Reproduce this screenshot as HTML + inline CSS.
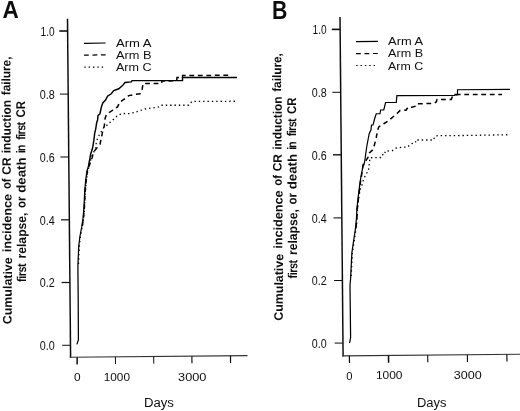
<!DOCTYPE html>
<html><head><meta charset="utf-8"><title>Cumulative incidence</title>
<style>
html,body{margin:0;padding:0;background:#fff;}
svg{display:block;font-family:"Liberation Sans",sans-serif;}
.ax{stroke:#111;stroke-width:1.5;fill:none;stroke-linecap:butt}
.axx{stroke:#333;stroke-width:1.1;fill:none}
.tk{stroke:#111;fill:none}
.sol{stroke:#000;stroke-width:1.45;fill:none;stroke-linejoin:miter}
.tr{stroke-width:1.25 !important}
.sb{stroke-width:1.22 !important}
.lg{stroke-width:1.2 !important}
.dsh{stroke:#000;stroke-width:1.5;fill:none;stroke-dasharray:4.8 3.7}
.dot{stroke:#000;stroke-width:1.3;fill:none;stroke-dasharray:1.4 2.95}
text{fill:#111}
</style></head><body>
<svg width="520" height="411" viewBox="0 0 520 411">
<defs><filter id="soft" x="0" y="0" width="520" height="411" filterUnits="userSpaceOnUse"><feGaussianBlur stdDeviation="0.3"/></filter></defs>
<rect width="520" height="411" fill="#fff"/>
<g filter="url(#soft)">
<line class="ax" x1="67.5" y1="18.75" x2="70.6" y2="357.75"/>
<line class="axx" x1="69.89999999999999" y1="357.25" x2="247.5" y2="355.63"/>
<line class="tk" stroke-width="1.6" x1="59.31" y1="31" x2="67.61" y2="31"/>
<line class="tk" stroke-width="1.0" x1="59.89" y1="94.1" x2="68.19" y2="94.1"/>
<line class="tk" stroke-width="1.1" x1="60.47" y1="157" x2="68.77" y2="157"/>
<line class="tk" stroke-width="1.2" x1="61.04" y1="219.8" x2="69.34" y2="219.8"/>
<line class="tk" stroke-width="1.2" x1="61.62" y1="282.5" x2="69.92" y2="282.5"/>
<line class="tk" stroke-width="1.0" x1="62.19" y1="345.3" x2="70.49" y2="345.3"/>
<line class="tk" stroke-width="1.5" x1="77.1" y1="357.19" x2="77.17" y2="364.39"/>
<line class="tk" stroke-width="1.0" x1="115.4" y1="356.84" x2="115.47" y2="364.04"/>
<line class="tk" stroke-width="1.0" x1="153.7" y1="356.49" x2="153.77" y2="363.69"/>
<line class="tk" stroke-width="1.2" x1="191.9" y1="356.14" x2="191.97" y2="363.34"/>
<line class="tk" stroke-width="1.2" x1="230.5" y1="355.79" x2="230.57" y2="362.99"/>
<line class="ax" x1="340.0" y1="16.9" x2="343.1" y2="356.4"/>
<line class="axx" x1="342.40000000000003" y1="355.9" x2="520" y2="354.28"/>
<line class="tk" stroke-width="1.6" x1="331.81" y1="29.4" x2="340.11" y2="29.4"/>
<line class="tk" stroke-width="1.0" x1="332.39" y1="92.3" x2="340.69" y2="92.3"/>
<line class="tk" stroke-width="1.4" x1="332.96" y1="154.8" x2="341.26" y2="154.8"/>
<line class="tk" stroke-width="1.1" x1="333.54" y1="217.9" x2="341.84" y2="217.9"/>
<line class="tk" stroke-width="1.0" x1="334.11" y1="280.5" x2="342.41" y2="280.5"/>
<line class="tk" stroke-width="1.0" x1="334.69" y1="343.1" x2="342.99" y2="343.1"/>
<line class="tk" stroke-width="1.2" x1="349.4" y1="355.84" x2="349.47" y2="363.04"/>
<line class="tk" stroke-width="1.5" x1="388.5" y1="355.48" x2="388.57" y2="362.68"/>
<line class="tk" stroke-width="1.1" x1="427.7" y1="355.13" x2="427.77" y2="362.33"/>
<line class="tk" stroke-width="1.1" x1="467.4" y1="354.76" x2="467.47" y2="361.96"/>
<line class="tk" stroke-width="1.2" x1="506.9" y1="354.40" x2="506.97" y2="361.60"/>
<text transform="translate(40.60,35.90) scale(0.7526,1)" font-size="13.48" font-weight="normal" fill="#000">1.0</text>
<text transform="translate(39.75,99.00) scale(0.7980,1)" font-size="13.48" font-weight="normal" fill="#000">0.8</text>
<text transform="translate(39.75,161.90) scale(0.7980,1)" font-size="13.48" font-weight="normal" fill="#000">0.6</text>
<text transform="translate(39.75,224.70) scale(0.7980,1)" font-size="13.48" font-weight="normal" fill="#000">0.4</text>
<text transform="translate(39.75,287.40) scale(0.7980,1)" font-size="13.48" font-weight="normal" fill="#000">0.2</text>
<text transform="translate(39.75,350.20) scale(0.7980,1)" font-size="13.48" font-weight="normal" fill="#000">0.0</text>
<text transform="translate(312.60,34.30) scale(0.7526,1)" font-size="13.48" font-weight="normal" fill="#000">1.0</text>
<text transform="translate(311.80,97.20) scale(0.7953,1)" font-size="13.48" font-weight="normal" fill="#000">0.8</text>
<text transform="translate(311.80,159.70) scale(0.7953,1)" font-size="13.48" font-weight="normal" fill="#000">0.6</text>
<text transform="translate(311.80,222.80) scale(0.7953,1)" font-size="13.48" font-weight="normal" fill="#000">0.4</text>
<text transform="translate(311.80,285.40) scale(0.7953,1)" font-size="13.48" font-weight="normal" fill="#000">0.2</text>
<text transform="translate(311.80,348.00) scale(0.7953,1)" font-size="13.48" font-weight="normal" fill="#000">0.0</text>
<text transform="translate(74.00,381.25) scale(1.0588,1)" font-size="11.23" font-weight="normal" fill="#000">0</text>
<text transform="translate(103.75,381.25) scale(1.0504,1)" font-size="11.23" font-weight="normal" fill="#000">1000</text>
<text transform="translate(178.10,380.90) scale(1.1438,1)" font-size="11.16" font-weight="normal" fill="#000">3000</text>
<text transform="translate(346.25,379.75) scale(0.9898,1)" font-size="11.38" font-weight="normal" fill="#000">0</text>
<text transform="translate(375.90,379.30) scale(1.0442,1)" font-size="11.45" font-weight="normal" fill="#000">1000</text>
<text transform="translate(453.70,378.60) scale(1.0854,1)" font-size="11.59" font-weight="normal" fill="#000">3000</text>
<text transform="translate(144.00,407.25) scale(0.9922,1)" font-size="13.26" font-weight="normal" fill="#000">Days</text>
<text transform="translate(416.90,407.25) scale(0.9790,1)" font-size="13.26" font-weight="normal" fill="#000">Days</text>
<text transform="translate(2.50,18.20) scale(0.9188,1)" font-size="24.57" font-weight="bold" fill="#000">A</text>
<text transform="translate(271.90,18.50) scale(0.8528,1)" font-size="25.00" font-weight="bold" fill="#000">B</text>
<text transform="translate(116.00,46.90) scale(1.1411,1)" font-size="11.45" font-weight="normal" fill="#000">Arm A</text>
<text transform="translate(116.00,59.00) scale(1.1401,1)" font-size="11.23" font-weight="normal" fill="#000">Arm B</text>
<text transform="translate(116.00,71.40) scale(1.0697,1)" font-size="11.74" font-weight="normal" fill="#000">Arm C</text>
<text transform="translate(388.10,45.10) scale(1.1542,1)" font-size="11.16" font-weight="normal" fill="#000">Arm A</text>
<text transform="translate(388.10,57.40) scale(1.1028,1)" font-size="11.45" font-weight="normal" fill="#000">Arm B</text>
<text transform="translate(388.10,69.60) scale(1.0679,1)" font-size="11.59" font-weight="normal" fill="#000">Arm C</text>
<line class="sol lg" x1="84" y1="43.3" x2="105.6" y2="43.0"/>
<line class="dsh lg" x1="84" y1="55.2" x2="105.6" y2="54.8"/>
<line class="dot lg" x1="84.3" y1="67.1" x2="105.6" y2="67.1"/>
<line class="sol lg" x1="356" y1="41.6" x2="377.9" y2="41.4"/>
<line class="dsh lg" x1="356" y1="53.6" x2="377.9" y2="53.5"/>
<line class="dot lg" x1="356.2" y1="65.5" x2="377.9" y2="65.5"/>
<text transform="translate(11.60,324.20) rotate(-89.65) translate(-0.00,0) scale(1.0076,1)" font-size="12.32" font-weight="bold">Cumulative</text>
<text transform="translate(11.16,252.30) rotate(-89.65) translate(-0.00,0) scale(1.0290,1)" font-size="12.32" font-weight="bold">incidence</text>
<text transform="translate(10.77,189.10) rotate(-89.65) translate(-0.00,0) scale(0.9106,1)" font-size="12.32" font-weight="bold">of</text>
<text transform="translate(10.69,174.70) rotate(-89.65) translate(-0.00,0) scale(0.9663,1)" font-size="12.32" font-weight="bold">CR</text>
<text transform="translate(10.56,153.20) rotate(-89.65) translate(-0.00,0) scale(0.9615,1)" font-size="12.32" font-weight="bold">induction</text>
<text transform="translate(10.20,95.30) rotate(-89.65) translate(-0.00,0) scale(0.9603,1)" font-size="12.32" font-weight="bold">failure,</text>
<text transform="translate(26.00,281.90) rotate(-89.65) translate(-0.00,0) scale(0.8400,1)" font-size="12.75" font-weight="bold" letter-spacing="-0.490">first</text>
<text transform="translate(25.86,258.50) rotate(-89.65) translate(-0.00,0) scale(0.9542,1)" font-size="12.75" font-weight="bold">relapse,</text>
<text transform="translate(25.55,208.00) rotate(-89.65) translate(-0.00,0) scale(0.9017,1)" font-size="12.75" font-weight="bold">or</text>
<text transform="translate(25.46,192.70) rotate(-89.65) translate(-0.00,0) scale(1.0356,1)" font-size="12.75" font-weight="bold">death</text>
<text transform="translate(25.21,153.20) rotate(-89.65) translate(-0.00,0) scale(0.8400,1)" font-size="12.75" font-weight="bold" letter-spacing="-1.351">in</text>
<text transform="translate(25.13,139.80) rotate(-89.65) translate(-0.00,0) scale(0.8400,1)" font-size="12.75" font-weight="bold" letter-spacing="-0.669">first</text>
<text transform="translate(25.00,117.50) rotate(-89.65) translate(-0.00,0) scale(0.8899,1)" font-size="12.75" font-weight="bold">CR</text>
<text transform="translate(282.70,320.75) rotate(-89.58) translate(-0.00,0) scale(1.0076,1)" font-size="12.32" font-weight="bold">Cumulative</text>
<text transform="translate(282.17,248.85) rotate(-89.58) translate(-0.00,0) scale(1.0290,1)" font-size="12.32" font-weight="bold">incidence</text>
<text transform="translate(281.71,185.65) rotate(-89.58) translate(-0.00,0) scale(0.9106,1)" font-size="12.32" font-weight="bold">of</text>
<text transform="translate(281.60,171.25) rotate(-89.58) translate(-0.00,0) scale(0.9663,1)" font-size="12.32" font-weight="bold">CR</text>
<text transform="translate(281.45,149.75) rotate(-89.58) translate(-0.00,0) scale(0.9615,1)" font-size="12.32" font-weight="bold">induction</text>
<text transform="translate(281.02,91.85) rotate(-89.58) translate(-0.00,0) scale(0.9603,1)" font-size="12.32" font-weight="bold">failure,</text>
<text transform="translate(297.10,278.45) rotate(-89.58) translate(-0.00,0) scale(0.8400,1)" font-size="12.75" font-weight="bold" letter-spacing="-0.490">first</text>
<text transform="translate(296.93,255.05) rotate(-89.58) translate(-0.00,0) scale(0.9542,1)" font-size="12.75" font-weight="bold">relapse,</text>
<text transform="translate(296.56,204.55) rotate(-89.58) translate(-0.00,0) scale(0.9017,1)" font-size="12.75" font-weight="bold">or</text>
<text transform="translate(296.45,189.25) rotate(-89.58) translate(-0.00,0) scale(1.0356,1)" font-size="12.75" font-weight="bold">death</text>
<text transform="translate(296.16,149.75) rotate(-89.58) translate(-0.00,0) scale(0.8400,1)" font-size="12.75" font-weight="bold" letter-spacing="-1.351">in</text>
<text transform="translate(296.06,136.35) rotate(-89.58) translate(-0.00,0) scale(0.8400,1)" font-size="12.75" font-weight="bold" letter-spacing="-0.669">first</text>
<text transform="translate(295.89,114.05) rotate(-89.58) translate(-0.00,0) scale(0.8899,1)" font-size="12.75" font-weight="bold">CR</text>
<polyline class="dot" points="78.50,264.00 79.00,252.00 79.30,246.00 80.50,236.00 82.40,226.00 83.70,217.50 84.50,208.00 85.40,191.00 86.30,181.00 87.70,171.25 89.40,165.00 91.20,158.00 93.40,152.80 95.80,148.00 95.80,146.20 96.40,141.90 97.60,138.20 99.50,134.60 103.75,127.50 106.20,126.00 108.60,123.60 111.60,121.20 117.50,115.60 122.50,113.50 130.00,113.60 136.00,112.00 145.00,109.00 158.75,107.00 161.00,105.25 188.75,105.25 192.00,101.40 237.60,101.25"/>
<polyline class="dsh" points="82.30,226.00 83.50,217.50 84.30,208.00 85.20,191.00 86.10,181.00 87.40,171.25 89.10,166.00 90.30,162.60 92.20,157.50 93.40,152.20 100.00,144.30 101.30,138.20 102.50,132.20 104.30,126.00 105.00,118.75 106.25,115.00 107.50,113.75 113.00,110.00 117.50,106.90 120.00,101.90 125.00,98.75 128.75,95.60 135.00,94.40 140.00,93.75 142.00,90.60 143.00,83.60 161.50,83.50 162.00,81.00 176.60,80.80 177.00,77.60 182.50,77.60 182.60,75.60 231.50,75.25"/>
<polyline class="sol tr" points="76.90,344.40 78.40,340.00 78.20,300.00 77.90,266.00 78.50,252.00 78.75,246.00 80.00,236.00 81.90,226.00 83.10,217.50 83.90,208.00 84.75,191.00 85.60,181.00 86.90,171.25 88.50,166.00"/>
<polyline class="sol" points="88.50,166.00 90.70,154.00 92.60,148.00 93.80,140.70 94.80,132.50 95.60,129.70 96.70,122.50 97.60,120.00 98.00,115.60 100.00,113.75 101.25,107.50 102.75,103.00 105.60,100.00 107.50,96.25 111.25,93.75 113.75,90.60 118.75,88.75 122.50,85.60 125.00,82.50 131.25,81.90 132.00,80.60 182.50,80.60 182.50,77.40 237.00,77.50"/>
<polyline class="dot" points="351.20,276.00 352.00,260.00 352.40,252.50 354.30,240.00 356.20,227.50 357.10,218.00 357.50,208.75 358.60,198.75 360.30,188.75 361.90,185.00 363.75,178.75 366.25,173.75 368.40,171.00 369.40,162.50 370.00,157.75 380.60,157.50 381.25,155.00 385.00,154.40 385.00,151.25 392.50,150.60 396.25,148.00 402.50,147.25 407.50,147.10 410.00,144.80 412.00,143.50 415.60,142.75 415.60,140.00 433.75,140.00 434.40,136.90 437.50,135.60 465.00,135.50 508.00,134.75"/>
<polyline class="dsh" points="356.00,227.50 356.90,218.00 357.30,208.75 358.40,198.75 360.40,182.50 361.80,174.00 363.40,164.00 366.25,160.00 368.00,157.50 369.40,153.00 372.50,150.00 374.40,145.00 376.25,137.50 377.70,130.00 378.75,126.90 383.75,123.75 388.75,120.60 393.75,116.25 397.50,113.00 400.00,110.60 406.00,110.25 408.00,107.25 412.00,107.25 416.00,106.00 417.00,103.75 433.75,103.50 436.25,102.00 437.00,99.40 451.25,99.40 452.25,97.00 454.00,95.60 458.50,94.50 502.00,94.40"/>
<polyline class="sol tr" points="349.60,343.00 350.60,337.50 350.30,311.00 350.00,285.00 350.60,278.75 351.50,260.00 351.90,252.50 353.75,240.00 355.60,227.50 356.50,218.00 356.90,208.75 358.00,198.75 360.00,182.50 361.40,174.00"/>
<polyline class="sol sb" points="361.40,174.00 362.30,170.00 362.90,165.20 364.00,164.80 364.90,160.00 366.80,146.25 369.20,133.75 370.90,130.00 371.50,125.00 373.00,125.00 375.00,117.50 376.25,113.75 380.00,113.75 380.60,110.00 383.75,110.00 385.60,102.50 396.25,102.50 396.90,95.60 455.00,95.40 455.00,94.40 457.50,94.40 457.50,89.75 510.00,89.40"/>
</g>
</svg>
</body></html>
